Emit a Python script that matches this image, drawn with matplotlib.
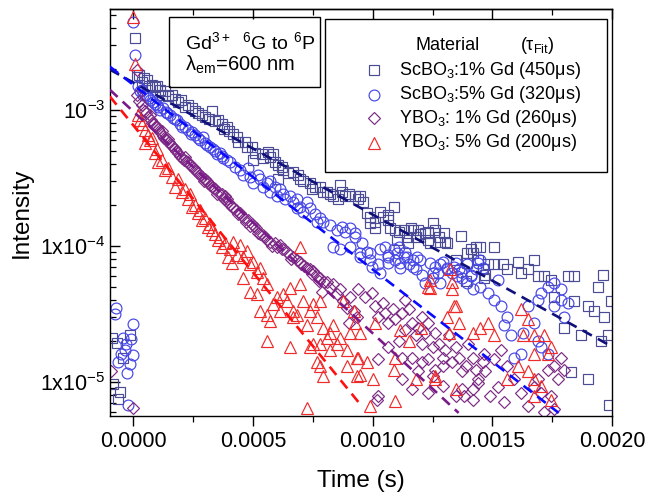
import numpy as np
import matplotlib
matplotlib.use("Agg")
import matplotlib.pyplot as plt
from matplotlib.ticker import FixedLocator, FixedFormatter, LogLocator, NullFormatter, MultipleLocator, FormatStrFormatter
from matplotlib.patches import Rectangle

plt.rcParams['font.family'] = ['Liberation Sans', 'DejaVu Sans']
plt.rcParams['mathtext.fontset'] = 'custom'
plt.rcParams['mathtext.rm'] = 'Liberation Sans'
plt.rcParams['mathtext.it'] = 'Liberation Sans'
plt.rcParams['mathtext.bf'] = 'Liberation Sans:bold'
plt.rcParams['mathtext.default'] = 'regular'

# time in microseconds, intensity in units of 1e-5
sq_t = [-89, -68, -43, -14, -85, -56, -64,
        5, 14, 25, 35, 45, 57, 66, 78, 91, 100, 112, 120, 133, 145, 162, 175, 187, 200, 215,
        229, 245, 258, 270, 288, 300, 315, 330, 340, 355, 372, 380, 392, 400,
        418, 434, 438, 467, 476, 497, 509, 501, 538, 543, 564, 572, 585, 593, 605, 622, 626,
        605, 647, 668, 689, 697, 710, 739, 748, 760, 781, 793, 810, 823, 835, 865, 873, 886,
        899, 928, 940, 856,
        948, 961, 977, 990, 990, 1011, 1011, 1032, 1041, 1062, 1066, 1074, 1087, 1095, 1108,
        1129, 1145, 1158, 1170, 1179, 1191, 1199, 1220, 1229, 1233, 1254, 1262, 1275, 1296,
        1304, 1346, 1367, 1388, 1409, 1417, 1430, 1459, 1463, 1471,
        1103, 1149, 1241, 1283, 1312, 1396, 1450, 1505, 1396, 1438, 1480, 1505, 1543, 1563,
        1605, 1618, 1647, 1672, 1689, 1714, 1743, 1756, 1798, 1814, 1840, 1840, 1869, 1898,
        1923, 1940, 1961, 1965, 1953, 1982, 1994, 1898, 1986, 1827]
sq_i = [2.11, 1.94, 1.50, 2.22, 0.97, 0.84, 0.75,
        338, 175, 180, 160, 170, 166, 150, 153, 148, 150, 140, 128, 136, 125, 129, 120, 114, 118, 105,
        109, 102, 97, 95, 92, 88, 85, 97, 82, 84, 78, 72, 74, 70,
        66, 63, 58, 58, 53, 53, 48, 43, 47, 44, 49, 45, 47, 41, 39, 38, 36,
        31, 34, 35, 33, 31, 30, 29, 26, 27, 27, 25, 25, 24, 23, 28, 25, 23,
        24, 23, 22, 22,
        23, 21, 17.5, 16.3, 14.7, 15, 13.6, 17.8, 16.3, 16.9, 15.5, 13.6, 19.4, 13.1, 12.7,
        13.1, 11.5, 13.6, 13.1, 11.5, 13.1, 12.1, 12.4, 11.1, 12.7, 14.7, 13.1, 11.5, 12.4,
        10.7, 7.9, 11.7, 5.5, 9.4, 8.9, 9.8, 6.7, 5.8, 6.1,
        11.1, 10.5, 10.5, 10.7, 10.5, 8.9, 9.7, 9.8, 7.5, 7.9, 7.3, 7.3, 7.3, 6.7,
        7.6, 6.3, 6.7, 7.9, 6.0, 6.0, 5.6, 4.2, 2.5, 6.0, 6.0, 3.9, 2.2, 3.6,
        3.3, 5.0, 6.1, 3.0, 2.0, 2.2, 3.9, 1.04, 0.68, 1.17]

ci_t = [-72, -77, -1, -43, -10, -35, -1, -26, -64, -14, -22, -30, -50,
        0, 7, 20, 28, 35, 41, 50, 57, 65, 70, 82, 90, 99, 105, 112, 125, 135, 141, 154, 166,
        175, 183, 195, 205, 216, 229, 240, 246, 258, 270, 279, 292, 300, 308, 321, 334, 340,
        350, 363, 370, 376, 392,
        405, 425, 446, 459, 480, 488, 501, 522, 530, 543, 560, 572, 572, 593, 601, 614, 626,
        635, 656, 668, 685, 685, 697, 710, 727, 739, 760, 768, 781, 793, 823, 852, 873, 886,
        907, 928,
        928, 957, 948, 977, 990, 998, 1024, 1032, 1053, 1062, 1066, 1087, 1095, 1108, 1116,
        1129, 1137, 1150, 1170, 1179, 1187, 1208, 1220, 1250, 1262, 1271, 1283, 1292, 1312,
        1333, 1346, 1359, 1375, 1396, 1409, 1430, 1450, 1459,
        836, 865, 907, 948, 990, 1032, 1062, 1103, 1116, 1145, 1170, 1199, 1241, 1254, 1283,
        1312, 1338, 1354, 1367, 1396, 1409, 1421, 1438, 1450, 1480, 1505, 1522, 1534, 1563,
        1576, 1618, 1630, 1647, 1672, 1689, 1702, 1731, 1756, 1785, 1756, 1785, 1798, 1814,
        1689, 1702, 1731, 1589, 1547]
ci_i = [3.5, 3.16, 2.67, 2.11, 2.07, 1.72, 1.58, 1.16, 1.40, 1.36, 0.68, 1.9, 1.6,
        443, 254, 150, 136, 140, 129, 128, 125, 122, 118, 113, 110, 109, 104, 100, 103, 96, 95, 92, 87,
        85, 84, 78, 74, 75, 71, 66, 68, 65, 62, 60, 63, 57, 55, 53, 51, 50,
        47, 48, 46, 44, 43,
        41, 38, 36, 33, 37.5, 32, 29, 33, 31, 27, 29, 30, 25, 27, 23, 26, 24,
        22, 23, 21, 22, 19, 19.4, 17.8, 21, 19, 17, 15, 16, 15, 14.3, 13, 13.8, 12.7,
        13.5, 12.4,
        11.5, 10.5, 8.9, 9.0, 7.9, 7.0, 7.3, 6.3, 9.8, 8.6, 7.5, 9.4, 7.9, 9.7, 6.9,
        8.3, 9.0, 7.3, 7.9, 6.7, 8.3, 6.1, 5.3, 5.8, 7.0, 6.3, 5.3, 7.6, 6.9,
        6.3, 7.5, 6.7, 5.8, 7.3, 6.1, 6.7, 7.9, 6.9,
        9.8, 9.4, 9.7, 8.3, 8.9, 9.4, 8.3, 8.9, 7.5, 8.2, 7.0, 7.9, 7.5, 6.3, 7.3,
        6.7, 7.0, 6.0, 6.4, 5.3, 6.0, 4.8, 7.5, 5.0, 4.5, 4.0, 5.6, 3.6, 3.0,
        2.2, 1.6, 2.3, 3.6, 2.7, 4.0, 4.5, 5.0, 5.3, 4.8, 3.6, 4.0, 3.0, 3.8,
        2.0, 1.8, 1.6, 1.5, 2.6]

di_t = [-93, -1,
        16, 16, 25, 36, 42, 49, 55, 62, 68, 74, 80, 87, 93, 99, 105, 112, 118, 125, 130, 137,
        143, 150, 156, 162, 168, 175, 180, 187, 195, 204, 210, 216, 222, 229, 238, 246, 252,
        258, 265, 271, 280, 288, 295, 300, 307, 313, 320, 330, 336, 342, 350, 355, 365, 372,
        378, 384, 390, 397, 405, 413, 420, 430, 438, 446, 455, 463, 470, 480, 488, 497, 505,
        514, 520, 530, 540, 551, 560, 572, 580, 593, 600, 614, 620, 631, 643, 656, 660, 668,
        685, 697, 700, 714, 727, 739, 745, 752, 768, 775, 781, 789, 797, 810, 823, 835, 852,
        865, 877, 894, 899, 907, 920, 936,
        940, 969, 998, 1011, 1041, 1024, 1053, 1066, 1083, 1095, 1124, 1137, 1137, 1150, 1166,
        1179, 1191, 1208, 1208, 1220, 1233, 1250, 1262, 1275, 1292, 1304, 1317, 1333, 1346,
        1359, 1375, 1388, 1400, 1417, 1430, 1442, 1459, 1471, 1024, 1124, 1166, 1233, 1250,
        1292, 1346, 1375, 1417, 1024, 1066, 1108, 1124, 1166, 1208, 1233, 1262, 1191, 1292,
        1463, 1505, 1534, 1563, 1589, 1547, 1618, 1672, 1689, 1702, 1731, 1756, 1773, 1785,
        1798, 1743, 1756, 1714, 1647, 1522, 1492, 1438, 1421, 1380, 1020]
di_i = [1.20, 0.64,
        197, 129, 115, 109, 100, 97, 95, 89, 92, 84, 80, 78, 76, 74, 72, 68, 70, 64, 62, 60,
        61, 58, 55, 54, 52, 51, 50, 48, 46, 44, 43, 45, 42, 41, 39, 38, 37,
        36, 35, 34, 33, 32, 30, 31, 30, 29, 28, 27, 26.5, 26, 24, 25, 23.5, 24,
        22, 23, 22, 21, 20, 19.4, 19, 18.4, 17, 17.5, 16.5, 16, 15, 15.5, 14, 14.5, 14,
        13.6, 12.5, 12.1, 12, 11.5, 11, 10.7, 10, 10.4, 9.8, 10.2, 9.5, 9.4, 9.0, 8.6, 8, 8.2,
        7.9, 7.6, 7.3, 7.1, 6.9, 6.7, 6.2, 6.5, 6.0, 5.5, 5.8, 4.6, 5.4, 5.4, 4.9, 5.2, 4.4,
        4.8, 3.9, 3.5, 2.7, 4.2, 3.3, 3.0,
        4.8, 4.2, 4.5, 3.6, 3.8, 3.0, 3.2, 2.7, 3.4, 2.9, 3.2, 4.0, 2.4, 3.4, 2.7,
        2.2, 2.5, 3.0, 1.9, 2.3, 2.7, 1.8, 2.3, 1.9, 1.5, 1.7, 2.2, 1.4, 1.8,
        1.5, 1.2, 1.3, 1.9, 1.5, 1.23, 1.04, 1.4, 1.2, 1.46, 1.04, 0.88, 0.83, 1.1,
        0.93, 0.78, 0.88, 0.88, 0.78, 1.8, 2.0, 1.5, 1.5, 1.4, 1.46, 1.23, 1.2, 1.3,
        1.6, 1.46, 1.72, 1.3, 1.04, 0.71, 0.83, 0.92, 1.04, 0.83, 1.23, 1.3, 1.04, 1.5,
        1.23, 0.78, 0.63, 0.6, 0.66, 0.92, 0.78, 0.98, 0.74, 0.78, 0.74]

tr_t = [0, 7, 20, 28, 36, 49, 49, 62, 70, 78, 91, 99, 103, 120, 133, 145, 162, 175, 187, 204,
        216, 229, 237, 246, 258, 271, 279, 288, 300, 313, 321, 330, 342, 355, 363, 372, 384,
        397, 405, 413,
        418, 446, 434, 459, 476, 488, 501, 518, 530, 543, 560, 459, 488, 518, 530, 560, 572,
        585, 601, 614, 626, 643, 656, 668, 685, 697, 697, 710, 727, 739, 752, 768, 781, 793,
        810, 823, 835, 852, 865, 877, 894, 907, 920, 936, 768, 781, 793, 894, 560, 656, 739,
        752, 781, 823, 727, 936, 668,
        928, 948, 940, 977, 948, 1095, 1087, 1179, 1262, 1095, 990, 1346, 1359, 1317, 1229,
        1241, 1333, 1262, 1346, 1011, 1116, 1150, 1200,
        1325, 1333, 1241, 1338, 1312, 1421, 1480, 1505, 1450, 1618, 1647, 1630, 1672, 1714,
        1743, 1731, 1672, 1605, 1647, 1672, 1702, 1743, 1563, 1672, 1003]
tr_i = [480, 215, 92, 84, 78, 71, 57, 65, 60, 62, 48, 51, 41, 43, 36, 37, 32, 27, 31, 25,
        26, 22, 24, 19.4, 20, 17.5, 18.4, 15.5, 16, 13.8, 14.5, 13.1, 12.1, 11.1, 11.6, 9.8, 10.5,
        8.3, 9.4, 7.5,
        10.7, 10.2, 8.6, 8.2, 9.1, 7.3, 7.6, 6.4, 6.9, 5.8, 5.2, 5.8, 4.6, 4.4, 3.3, 3.1, 2.8,
        3.7, 4.2, 3.3, 4.4, 3.9, 4.9, 3.3, 3.1, 9.7, 5.2, 3.9, 2.6, 3.3, 3.7, 3.0, 3.9, 2.5,
        2.1, 2.3, 2.6, 1.9, 2.1, 3.9, 1.7, 2.3, 3.3, 1.5, 1.4, 1.3, 1.1, 1.3, 2.0, 1.8, 1.8,
        1.9, 1.9, 1.7, 0.64, 1.1, 3.0,
        2.7, 2.3, 1.5, 1.4, 1.13, 1.5, 1.23, 1.04, 1.04, 0.72, 0.66, 3.6, 2.7, 2.3, 5.0,
        4.9, 4.8, 1.1, 0.88, 2.7, 2.4, 2.0, 2.5,
        6.7, 5.4, 5.6, 3.6, 3.0, 2.3, 2.7, 2.2, 2.5, 3.4, 2.9, 2.2, 2.2, 2.2,
        1.8, 1.6, 1.6, 1.3, 1.2, 1.04, 0.93, 0.74, 1.04, 0.78, 1.04]

# exponential fit lines, start/end points (time in us, intensity in 1e-5)
fit_t = {'sc1': [-98, 2000], 'sc5': [-98, 1777], 'y1': [-98, 1359], 'y5': [-98, 940]}
fit_i = {'sc1': [197, 1.81], 'sc5': [207, 0.59], 'y1': [140, 0.59], 'y5': [125, 0.71]}

labels = ['ScBO$_3$:1% Gd (450μs)', 'ScBO$_3$:5% Gd (320μs)',
          'YBO$_3$: 1% Gd (260μs)', 'YBO$_3$: 5% Gd (200μs)']

c_sq = '#4b4b96'
c_ci = '#4646e6'
c_di = '#7d2a85'
c_tr = '#ef2a2a'

ms_sq, ms_ci, ms_di, ms_tr = 7.2, 7.8, 6.0, 8.4

fig = plt.figure(figsize=(6.47, 4.97), dpi=100)
ax = fig.add_axes([0.170, 0.163, 0.776, 0.819])

mk = dict(linestyle='none', markerfacecolor='none', markeredgewidth=0.85)
ax.plot(np.array(sq_t) * 1e-6, np.array(sq_i) * 1e-5, marker='s', markersize=ms_sq, color=c_sq, **mk)
ax.plot(np.array(ci_t) * 1e-6, np.array(ci_i) * 1e-5, marker='o', markersize=ms_ci, color=c_ci, **mk)
ax.plot(np.array(di_t) * 1e-6, np.array(di_i) * 1e-5, marker='D', markersize=ms_di, color=c_di, **mk)
ax.plot(np.array(tr_t) * 1e-6, np.array(tr_i) * 1e-5, marker='^', markersize=ms_tr, color=c_tr, **mk)

fit_colors = {'sc1': '#10107a', 'sc5': '#0a0aff', 'y1': '#7a1a8a', 'y5': '#ff1010'}
for key in ['sc1', 'sc5', 'y1', 'y5']:
    ax.plot(np.array(fit_t[key]) * 1e-6, np.array(fit_i[key]) * 1e-5, color=fit_colors[key],
            lw=1.9, dashes=(4, 2.6), zorder=5)

ax.set_yscale('log')
ax.set_xlim(-0.0000975, 0.002)
ax.set_ylim(5.6e-6, 5.5e-3)

ax.yaxis.set_major_locator(FixedLocator([1e-5, 1e-4, 1e-3]))
ax.yaxis.set_major_formatter(FixedFormatter(['1x10$^{-5}$', '1x10$^{-4}$', '10$^{-3}$']))
ax.yaxis.set_minor_locator(LogLocator(base=10, subs=np.arange(2, 10)))
ax.yaxis.set_minor_formatter(NullFormatter())
ax.xaxis.set_major_locator(MultipleLocator(0.0005))
ax.xaxis.set_minor_locator(MultipleLocator(0.00025))
ax.xaxis.set_major_formatter(FormatStrFormatter('%.4f'))

ax.tick_params(axis='y', which='both', direction='in', left=True, right=False, labelsize=15.5)
ax.tick_params(axis='y', which='major', length=7, width=1)
ax.tick_params(axis='y', which='minor', length=4, width=0.9)
ax.tick_params(axis='x', which='both', direction='out', top=False, labelsize=15.5)
ax.tick_params(axis='x', which='major', length=7, width=1)
ax.tick_params(axis='x', which='minor', length=4, width=0.9)

top = ax.secondary_xaxis('top')
top.xaxis.set_major_locator(MultipleLocator(0.0005))
top.xaxis.set_minor_locator(MultipleLocator(0.00025))
top.tick_params(axis='x', which='both', direction='in', labeltop=False)
top.tick_params(axis='x', which='major', length=7, width=1)
top.tick_params(axis='x', which='minor', length=4, width=0.9)

for sp in ax.spines.values():
    sp.set_linewidth(1.0)
top.spines['top'].set_linewidth(1.0)

ax.set_xlabel('Time (s)', fontsize=17.5, labelpad=13)
ax.set_ylabel('Intensity', fontsize=17.5, labelpad=5)

# info box
ax.add_patch(Rectangle((0.1175, 0.808), 0.3005, 0.172, transform=ax.transAxes,
                       fill=False, lw=1.0, ec='black', zorder=6))
ax.text(0.149, 0.919, 'Gd$^{3+}$  $^{6}$G to $^{6}$P', transform=ax.transAxes,
        fontsize=14, va='center', zorder=7)
ax.text(0.149, 0.862, 'λ$_{em}$=600 nm', transform=ax.transAxes,
        fontsize=14.5, va='center', zorder=7)

# legend box
ax.add_patch(Rectangle((0.428, 0.600), 0.562, 0.375, transform=ax.transAxes,
                       facecolor='white', lw=1.0, ec='black', zorder=6))
ax.text(0.608, 0.909, 'Material', transform=ax.transAxes, fontsize=13, va='center', zorder=7)
ax.text(0.817, 0.909, '(τ$_{Fit}$)', transform=ax.transAxes, fontsize=13, va='center', zorder=7)
row_y = [0.850, 0.789, 0.732, 0.671]
row_mk = [('s', ms_sq, c_sq), ('o', ms_ci, c_ci), ('D', ms_di, c_di), ('^', ms_tr, c_tr)]
for y, (m, ms, c), lab in zip(row_y, row_mk, labels):
    ax.plot([0.526], [y], transform=ax.transAxes, marker=m, markersize=ms, color=c,
            markerfacecolor='none', markeredgewidth=0.85, linestyle='none', zorder=7, clip_on=False)
    ax.text(0.576, y, lab, transform=ax.transAxes, fontsize=13, va='center', zorder=7)

fig.savefig('out.png', dpi=100)
